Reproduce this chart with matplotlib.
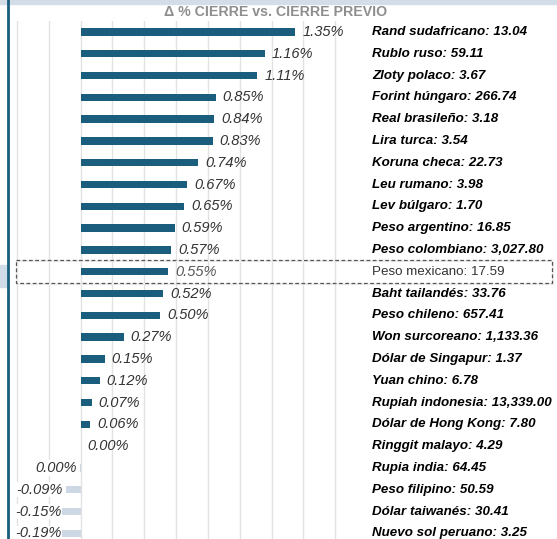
import numpy as np
import matplotlib
matplotlib.use("Agg")
import matplotlib.pyplot as plt
from matplotlib.patches import Rectangle

# currencies, change vs previous close (%) and closing rate
monedas = ["Rand sudafricano", "Rublo ruso", "Zloty polaco", "Forint húngaro",
           "Real brasileño", "Lira turca", "Koruna checa", "Leu rumano",
           "Lev búlgaro", "Peso argentino", "Peso colombiano", "Peso mexicano",
           "Baht tailandés", "Peso chileno", "Won surcoreano", "Dólar de Singapur",
           "Yuan chino", "Rupiah indonesia", "Dólar de Hong Kong", "Ringgit malayo",
           "Rupia india", "Peso filipino", "Dólar taiwanés", "Nuevo sol peruano"]
cambio = [1.35, 1.16, 1.11, 0.85, 0.84, 0.83, 0.74, 0.67, 0.65, 0.59, 0.57, 0.55,
          0.52, 0.50, 0.27, 0.15, 0.12, 0.07, 0.06, 0.00, -0.004, -0.09, -0.15, -0.19]
cierre = ["13.04", "59.11", "3.67", "266.74", "3.18", "3.54", "22.73", "3.98",
          "1.70", "16.85", "3,027.80", "17.59", "33.76", "657.41", "1,133.36", "1.37",
          "6.78", "13,339.00", "7.80", "4.29", "64.45", "50.59", "30.41", "3.25"]
destacado = "Peso mexicano"
grid_ticks = [-0.4, -0.2, 0.0, 0.2, 0.4, 0.6, 0.8, 1.0, 1.2, 1.4, 1.6]

plt.rcParams['font.family'] = ['Liberation Sans', 'DejaVu Sans']

azul = "#1a5d7d"
azul_claro = "#cdd8e4"

fig = plt.figure(figsize=(5.57, 5.39), dpi=100)
ax = fig.add_axes([8 / 557, 0, 549 / 557, 518 / 539])

y = np.arange(len(monedas))
colores = [azul if v >= 0 else azul_claro for v in cambio]

################ grid ################
for g in grid_ticks:
    ax.axvline(g, color="#e2e2e2", lw=1, zorder=0)

ax.barh(y, cambio, height=0.34, color=colores, zorder=2)

################ labels ################
for i, (m, v, c) in enumerate(zip(monedas, cambio, cierre)):
    txt = f"{round(v, 2) + 0.0:.2f}%"
    col_val = "#5a5a5a" if m == destacado else "#333333"
    if v >= 0:
        ax.annotate(txt, (v, i), xytext=(5, 0), textcoords="offset points",
                    ha="left", va="center", fontsize=10.5, style="italic",
                    color=col_val, zorder=3)
    else:
        ax.annotate(txt, (max(v, -0.1), i), xytext=(-2.5, 0), textcoords="offset points",
                    ha="right", va="center", fontsize=10.5, style="italic",
                    color=col_val, zorder=3,
                    bbox=dict(facecolor="white", edgecolor="none", pad=0.5))
    if m == destacado:
        ax.text(1.832, i, f"{m}: {c}", ha="left", va="center", fontsize=9.6,
                color="#333333", zorder=3)
    else:
        ax.text(1.832, i, f"{m}: {c}", ha="left", va="center", fontsize=9.6,
                fontweight="bold", style="italic", color="black", zorder=3)

# dashed box around the highlighted row
k = monedas.index(destacado)
ax.add_patch(Rectangle((-0.405, k - 0.52), 3.37, 1.04, fill=False,
                       ls=(0, (3, 2)), lw=0.9, ec="#555555", zorder=4))
ax.add_patch(Rectangle((-0.400, k - 0.47), 3.37, 1.04, fill=False,
                       lw=1.5, ec="#eeeeee", zorder=1))

ax.set_xlim(-0.457, 2.995)
ax.set_ylim(23.26, -0.5)
ax.axis("off")

################ decorations ################
fig.text(276 / 557, 1 - 12 / 539, "Δ % CIERRE vs. CIERRE PREVIO", ha="center",
         va="center", fontsize=10.2, fontweight="bold", color="#8e8e8e")
fig.patches.append(Rectangle((0, 1 - 4 / 539), 1, 4 / 539, transform=fig.transFigure,
                             color="#d3dde7", zorder=0))
fig.patches.append(Rectangle((0, 1 - 287 / 539), 7 / 557, 22 / 539,
                             transform=fig.transFigure, color="#cfdbe6", zorder=0))
fig.lines.append(plt.Line2D([7.5 / 557, 7.5 / 557], [0, 1], transform=fig.transFigure,
                            color=azul, lw=2))

fig.savefig("out.png", dpi=100)
